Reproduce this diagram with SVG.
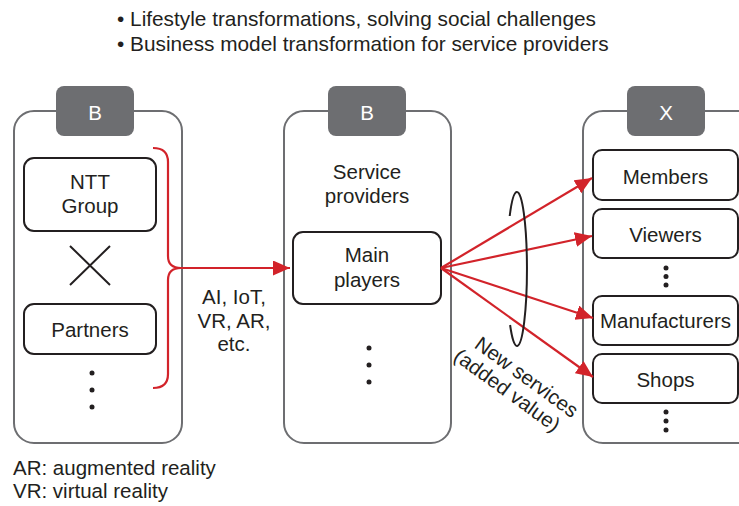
<svg xmlns="http://www.w3.org/2000/svg" width="739" height="506" viewBox="0 0 739 506">
  <defs>
    <style>
      text { font-family: "Liberation Sans", Arial, sans-serif; font-size: 20.5px; fill: #231f20; }
      .head { font-size: 20.8px; }
      .mid { text-anchor: middle; }
      .tabtxt { fill: #ffffff; text-anchor: middle; }
      .panel { fill: #ffffff; stroke: #6d6e71; stroke-width: 2; }
      .tab { fill: #6d6e71; }
      .box { fill: #ffffff; stroke: #231f20; stroke-width: 2; }
      .red { fill: none; stroke: #d2232a; stroke-width: 2.2; }
      .dot { fill: #231f20; }
    </style>
    <marker id="arrow" markerUnits="userSpaceOnUse" markerWidth="18" markerHeight="16" refX="17" refY="7.5" orient="auto">
      <path d="M0,0 L17,7.5 L0,15 z" fill="#d2232a"/>
    </marker>
  </defs>

  <rect width="739" height="506" fill="#ffffff"/>

  <!-- headline bullets -->
  <g id="headline">
    <text class="head" x="117" y="26">• Lifestyle transformations, solving social challenges</text>
    <text class="head" x="117" y="51">• Business model transformation for service providers</text>
  </g>

  <!-- left panel: technology partners -->
  <g id="panel-left">
    <rect class="panel" x="14" y="111" width="168" height="332" rx="20"/>
    <rect class="tab" x="56" y="86" width="78" height="50" rx="8"/>
    <text class="tabtxt" x="95" y="120">B</text>
  </g>
  <g id="ntt-group">
    <rect class="box" x="24" y="158" width="132" height="73" rx="10"/>
    <text class="mid" x="90" y="188.5">NTT</text>
    <text class="mid" x="90" y="212.5">Group</text>
  </g>
  <g id="cross">
    <path d="M70,246 L110,285 M110,246 L70,285" stroke="#231f20" stroke-width="2" fill="none"/>
  </g>
  <g id="partners">
    <rect class="box" x="24" y="304" width="132" height="50" rx="10"/>
    <text class="mid" x="90" y="337">Partners</text>
  </g>
  <g id="left-more">
    <circle class="dot" cx="92" cy="373" r="2.5"/>
    <circle class="dot" cx="92" cy="390" r="2.5"/>
    <circle class="dot" cx="92" cy="407" r="2.5"/>
  </g>

  <!-- middle panel: service providers -->
  <g id="panel-middle">
    <rect class="panel" x="284" y="111" width="167" height="332" rx="20"/>
    <rect class="tab" x="328" y="86" width="78" height="50" rx="8"/>
    <text class="tabtxt" x="367" y="120">B</text>
    <text class="mid" x="367" y="179">Service</text>
    <text class="mid" x="367" y="203">providers</text>
  </g>
  <g id="main-players">
    <rect class="box" x="293" y="232" width="148" height="72" rx="10"/>
    <text class="mid" x="367" y="262">Main</text>
    <text class="mid" x="367" y="287">players</text>
  </g>
  <g id="middle-more">
    <circle class="dot" cx="369" cy="348" r="2.5"/>
    <circle class="dot" cx="369" cy="365" r="2.5"/>
    <circle class="dot" cx="369" cy="382" r="2.5"/>
  </g>

  <!-- right panel: end users -->
  <g id="panel-right">
    <rect class="panel" x="583" y="111" width="180" height="332" rx="20"/>
    <rect class="tab" x="627" y="86" width="78" height="50" rx="8"/>
    <text class="tabtxt" x="666" y="120">X</text>
  </g>
  <g id="members">
    <rect class="box" x="593" y="150" width="145" height="50" rx="9"/>
    <text class="mid" x="665.5" y="184">Members</text>
  </g>
  <g id="viewers">
    <rect class="box" x="593" y="209" width="145" height="49" rx="9"/>
    <text class="mid" x="665.5" y="242">Viewers</text>
  </g>
  <g id="right-more-1">
    <circle class="dot" cx="666" cy="268" r="2.5"/>
    <circle class="dot" cx="666" cy="276.5" r="2.5"/>
    <circle class="dot" cx="666" cy="285" r="2.5"/>
  </g>
  <g id="manufacturers">
    <rect class="box" x="593" y="296" width="145" height="49" rx="9"/>
    <text class="mid" x="665.5" y="328">Manufacturers</text>
  </g>
  <g id="shops">
    <rect class="box" x="593" y="354" width="145" height="49" rx="9"/>
    <text class="mid" x="665.5" y="387">Shops</text>
  </g>
  <g id="right-more-2">
    <circle class="dot" cx="666" cy="412" r="2.5"/>
    <circle class="dot" cx="666" cy="421" r="2.5"/>
    <circle class="dot" cx="666" cy="430" r="2.5"/>
  </g>

  <!-- connectors -->
  <g id="connectors">
    <path class="red" d="M153,148 Q168,148 168,162 L168,256 Q168,268 181,268 Q168,268 168,280 L168,374 Q168,388 153,388"/>
    <path class="red" d="M180,268 L290,268" marker-end="url(#arrow)"/>
    <path class="red" d="M441,268 L592,178" marker-end="url(#arrow)"/>
    <path class="red" d="M441,268 L592,236" marker-end="url(#arrow)"/>
    <path class="red" d="M441,268 L593,318" marker-end="url(#arrow)"/>
    <path class="red" d="M441,268 L593,377" marker-end="url(#arrow)"/>
    <!-- ring bundling the new services -->
    <path d="M509.7,216 A10 77 0 1 1 510.1,325" fill="none" stroke="#231f20" stroke-width="2"/>
  </g>

  <!-- connector labels -->
  <g id="tech-label">
    <text class="mid" x="234" y="304">AI, IoT,</text>
    <text class="mid" x="234" y="328">VR, AR,</text>
    <text class="mid" x="234" y="351">etc.</text>
  </g>
  <g id="services-label" transform="translate(516,378) rotate(36)">
    <text class="mid" x="8" y="0">New services</text>
    <text class="mid" x="0" y="22">(added value)</text>
  </g>

  <!-- footnotes -->
  <g id="footnotes">
    <text x="13" y="475">AR: augmented reality</text>
    <text x="13" y="498">VR: virtual reality</text>
  </g>
</svg>
